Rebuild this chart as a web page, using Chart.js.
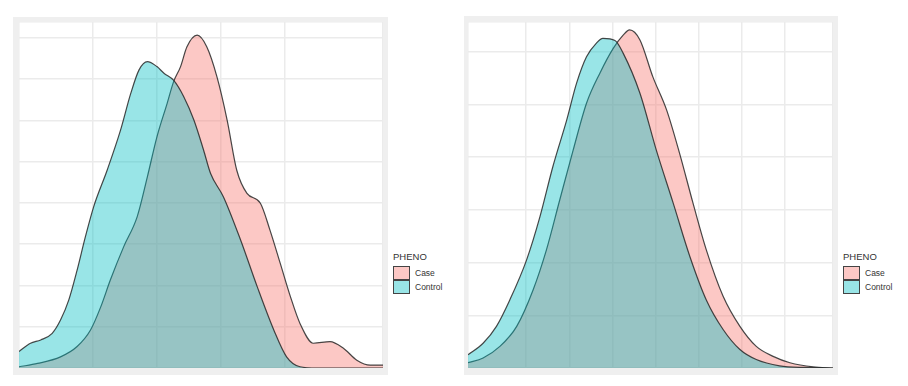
<!DOCTYPE html>
<html>
<head>
<meta charset="utf-8">
<script src="https://cdn.jsdelivr.net/npm/chart.js@4.4.0/dist/chart.umd.min.js"></script>
<style>
body { margin: 0; background: #fff; width: 908px; height: 386px; overflow: hidden; position: relative; font-family: "Liberation Sans", Arial, sans-serif; }
.frame { position: absolute; background: #efefef; }
canvas { position: absolute; background: #fff; }
.legend { position: absolute; color: #333; }
.legend .title { font-size: 9.5px; line-height: 9px; margin-bottom: 5px; }
.legend .row { display: flex; align-items: center; height: 14px; font-size: 8.5px; }
.legend .key { width: 15px; height: 12px; border: 1px solid #444; margin-right: 5px; box-sizing: content-box; }
</style>
</head>
<body>
<div class="frame" style="left:13px;top:17px;width:375px;height:358px"></div>
<div class="frame" style="left:464px;top:16px;width:374px;height:359px"></div>
<canvas id="left" width="364" height="346" style="left:19px;top:22px"></canvas>
<canvas id="right" width="365" height="346" style="left:468px;top:22px"></canvas>
<div class="legend" style="left:393px;top:252px">
  <div class="title">PHENO</div>
  <div class="row"><div class="key" style="background:rgba(248,118,109,0.4)"></div>Case</div>
  <div class="row"><div class="key" style="background:rgba(0,191,196,0.4)"></div>Control</div>
</div>
<div class="legend" style="left:843px;top:252px">
  <div class="title">PHENO</div>
  <div class="row"><div class="key" style="background:rgba(248,118,109,0.4)"></div>Case</div>
  <div class="row"><div class="key" style="background:rgba(0,191,196,0.4)"></div>Control</div>
</div>
<script>
// groups
var groups = ['Case', 'Control'];

// left panel densities
var leftCaseX = [-0.16, 0.13, 0.49, 0.75, 0.96, 1.12, 1.27, 1.48, 1.69, 1.85, 2.00, 2.16, 2.26, 2.37, 2.47, 2.63, 2.78, 2.94, 3.10, 3.25, 3.41, 3.62, 3.77, 3.93, 4.09, 4.24, 4.45, 4.71, 4.92, 5.13, 5.34, 5.54];
var leftCaseY = [0.03, 0.11, 0.27, 0.52, 0.92, 1.48, 2.13, 2.94, 3.66, 4.63, 5.60, 6.41, 6.93, 7.30, 7.78, 8.06, 7.78, 7.05, 6.00, 4.79, 4.23, 3.99, 3.34, 2.54, 1.73, 1.08, 0.60, 0.64, 0.48, 0.19, 0.07, 0.07];
var leftCtrlX = [-0.16, 0.02, 0.18, 0.36, 0.49, 0.62, 0.75, 0.88, 1.01, 1.22, 1.43, 1.59, 1.72, 1.85, 2.00, 2.11, 2.26, 2.42, 2.58, 2.73, 2.84, 3.04, 3.31, 3.57, 3.83, 4.03, 4.24, 4.50, 5.54];
var leftCtrlY = [0.40, 0.60, 0.68, 0.84, 1.16, 1.65, 2.37, 3.18, 3.91, 4.79, 5.76, 6.65, 7.22, 7.42, 7.30, 7.14, 6.97, 6.57, 6.00, 5.28, 4.71, 4.15, 3.10, 1.97, 0.92, 0.27, 0.03, 0.00, 0.00];

// right panel densities
var rightCaseX = [-0.35, 0.00, 0.39, 0.78, 1.16, 1.47, 1.78, 2.09, 2.40, 2.71, 3.02, 3.25, 3.40, 3.64, 3.94, 4.26, 4.56, 4.87, 5.18, 5.57, 5.96, 6.34, 6.73, 7.12, 7.66, 8.12];
var rightCaseY = [0.10, 0.19, 0.41, 0.79, 1.48, 2.24, 3.19, 4.13, 5.02, 5.59, 6.06, 6.31, 6.41, 6.22, 5.52, 4.89, 4.07, 3.13, 2.24, 1.36, 0.79, 0.41, 0.22, 0.10, 0.02, 0.00];
var rightCtrlX = [-0.35, 0.00, 0.31, 0.62, 1.01, 1.32, 1.62, 1.94, 2.17, 2.40, 2.63, 2.78, 3.06, 3.25, 3.64, 4.02, 4.41, 4.80, 5.18, 5.57, 5.96, 6.34, 6.88, 7.50, 8.12];
var rightCtrlY = [0.25, 0.47, 0.79, 1.29, 2.05, 2.87, 3.82, 4.70, 5.40, 5.90, 6.16, 6.25, 6.21, 5.97, 5.21, 4.13, 3.13, 2.11, 1.29, 0.73, 0.35, 0.16, 0.04, 0.01, 0.00];

var caseFill = 'rgba(248,118,109,0.4)';
var ctrlFill = 'rgba(0,191,196,0.4)';
var outline = 'rgba(40,40,40,0.85)';

function toPoints(xs, ys) {
    var pts = [];
    for (var i = 0; i < xs.length; i++) pts.push({ x: xs[i], y: ys[i] });
    return pts;
}

function makeChart(id, caseX, caseY, ctrlX, ctrlY, xmin, xmax, ymax) {
    var ctx = document.getElementById(id).getContext('2d');
    return new Chart(ctx, {
        type: 'line',
        data: {
            datasets: [
                {
                    label: groups[0],
                    data: toPoints(caseX, caseY),
                    backgroundColor: caseFill,
                    borderColor: outline,
                    borderWidth: 1.2,
                    fill: 'origin',
                    order: 1
                },
                {
                    label: groups[1],
                    data: toPoints(ctrlX, ctrlY),
                    backgroundColor: ctrlFill,
                    borderColor: outline,
                    borderWidth: 1.2,
                    fill: 'origin',
                    order: 0
                }
            ]
        },
        options: {
            responsive: false,
            animation: false,
            layout: { padding: 0 },
            elements: {
                point: { radius: 0 },
                line: { cubicInterpolationMode: 'monotone' }
            },
            plugins: {
                legend: { display: false },
                tooltip: { enabled: false }
            },
            scales: {
                x: {
                    type: 'linear',
                    min: xmin,
                    max: xmax,
                    ticks: { display: false, stepSize: 1 },
                    grid: { color: '#ebebeb', lineWidth: 1.5, drawTicks: false },
                    border: { display: false }
                },
                y: {
                    min: 0,
                    max: ymax,
                    ticks: { display: false, stepSize: 1 },
                    grid: { color: '#ebebeb', lineWidth: 1.5, drawTicks: false },
                    border: { display: false }
                }
            }
        }
    });
}

makeChart('left', leftCaseX, leftCaseY, leftCtrlX, leftCtrlY, -0.16, 5.54, 8.38);
makeChart('right', rightCaseX, rightCaseY, rightCtrlX, rightCtrlY, -0.35, 8.12, 6.56);
</script>
</body>
</html>
